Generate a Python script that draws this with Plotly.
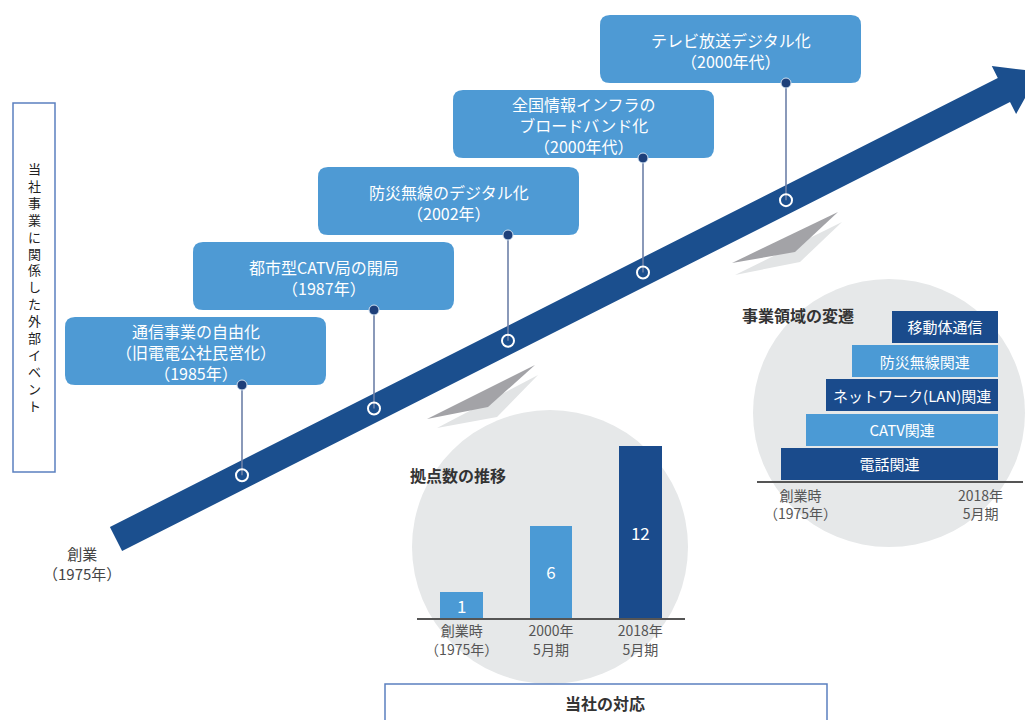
import plotly.graph_objects as go

W, H = 1025, 720
FONT = "Noto Sans CJK JP"

# ---------------- data ----------------
event_titles = [
    "通信事業の自由化<br>（旧電電公社民営化）",
    "都市型CATV局の開局",
    "防災無線のデジタル化",
    "全国情報インフラの<br>ブロードバンド化",
    "テレビ放送デジタル化",
]
event_periods = ["（1985年）", "（1987年）", "（2002年）", "（2000年代）", "（2000年代）"]

site_categories = ["創業時<br>（1975年）", "2000年<br>5月期", "2018年<br>5月期"]
site_counts = [1, 6, 12]

domain_labels = ["電話関連", "CATV関連", "ネットワーク(LAN)関連", "防災無線関連", "移動体通信"]
domain_start_years = [1975, 1980, 1984, 1989, 1997]
domain_end_year = 2018
domain_axis_labels = ["創業時<br>（1975年）", "2018年<br>5月期"]

side_label = "当社事業に関係した外部イベント"
origin_label = "創業<br>（1975年）"
response_label = "当社の対応"
sites_title = "拠点数の推移"
domains_title = "事業領域の変遷"

# ---------------- styles / layout (pixels) ----------------
LIGHT = "#4b9ad5"
DARK = "#1a4b8c"
ARROW = "#1b4f8e"
BOXBLUE = "#4e9ad4"
GRAYC = "#e6e8e9"
FRAME = "#5b80c0"

event_box_x0 = [65, 193, 318, 453, 600]
event_box_y0 = [317, 242, 167, 90, 15]
BOX_W, BOX_H = 261, 68
event_anchor_x = [242, 374, 508, 643, 786]

# arrow geometry
SX, SY = 116.0, 539.0
UX, UY = 0.8924, -0.4513
PX, PY = 0.4513, 0.8924
HW, HH = 13.5, 27.0
T_BASE, T_TIP = 995.0, 1035.0


def on_arrow(t, off=0.0):
    return (SX + UX * t + PX * off, SY + UY * t + PY * off)


def arrow_y_at(x):
    t = (x - SX) / UX
    return SY + UY * t


def poly(pts):
    return "M" + " L".join(f"{x:.1f},{y:.1f}" for x, y in pts) + " Z"


def rrect(x0, y0, x1, y1, r):
    return (f"M{x0+r},{y0} L{x1-r},{y0} Q{x1},{y0} {x1},{y0+r} L{x1},{y1-r} "
            f"Q{x1},{y1} {x1-r},{y1} L{x0+r},{y1} Q{x0},{y1} {x0},{y1-r} "
            f"L{x0},{y0+r} Q{x0},{y0} {x0+r},{y0} Z")


shapes = []
# gray circles
shapes.append(dict(type="circle", xref="x", yref="y", x0=412, x1=688, y0=410, y1=684,
                   fillcolor=GRAYC, line=dict(width=0), layer="below"))
shapes.append(dict(type="circle", xref="x", yref="y", x0=753, x1=1025, y0=279, y1=547,
                   fillcolor=GRAYC, line=dict(width=0), layer="below"))
# chevrons
for dark_pts, light_pts in [
    ([(427, 419), (535, 365), (488, 407)], [(437, 428), (538, 375), (497, 417)]),
    ([(732, 263), (838, 212), (795, 252)], [(735, 275), (842, 222), (800, 262)]),
]:
    shapes.append(dict(type="path", xref="x", yref="y", path=poly(light_pts),
                       fillcolor="#e2e4e5", line=dict(width=0), layer="below"))
    shapes.append(dict(type="path", xref="x", yref="y", path=poly(dark_pts),
                       fillcolor="#a3a3a7", line=dict(width=0), layer="below"))
# main arrow
arrow_pts = [on_arrow(0, -HW), on_arrow(T_BASE, -HW), on_arrow(T_BASE, -HH),
             on_arrow(T_TIP), on_arrow(T_BASE, HH), on_arrow(T_BASE, HW), on_arrow(0, HW)]
shapes.append(dict(type="path", xref="x", yref="y", path=poly(arrow_pts),
                   fillcolor=ARROW, line=dict(width=0), layer="below"))
# event boxes
for x0, y0 in zip(event_box_x0, event_box_y0):
    shapes.append(dict(type="path", xref="x", yref="y",
                       path=rrect(x0, y0, x0 + BOX_W, y0 + BOX_H, 10),
                       fillcolor=BOXBLUE, line=dict(width=0), layer="below"))
# frames
shapes.append(dict(type="rect", xref="x", yref="y", x0=13, x1=55, y0=103, y1=472,
                   line=dict(color=FRAME, width=1.5), fillcolor="rgba(0,0,0,0)", layer="below"))
shapes.append(dict(type="rect", xref="x", yref="y", x0=385, x1=827, y0=684, y1=740,
                   line=dict(color=FRAME, width=1.5), fillcolor="white", layer="below"))

fig = go.Figure()

# connectors
cx, cy = [], []
for x, y0 in zip(event_anchor_x, event_box_y0):
    cx += [x, x, None]
    cy += [y0 + BOX_H, arrow_y_at(x), None]
fig.add_trace(go.Scatter(x=cx, y=cy, mode="lines", line=dict(color="#6d80a8", width=1.6),
                         hoverinfo="skip", showlegend=False, xaxis="x", yaxis="y"))
fig.add_trace(go.Scatter(x=event_anchor_x, y=[y + BOX_H for y in event_box_y0], mode="markers",
                         marker=dict(size=10, color="#1d3f7a", line=dict(color="#cfe0f1", width=1)),
                         hoverinfo="skip", showlegend=False, xaxis="x", yaxis="y"))
fig.add_trace(go.Scatter(x=event_anchor_x, y=[arrow_y_at(x) for x in event_anchor_x], mode="markers",
                         marker=dict(size=12, symbol="circle-open", color="white", line=dict(width=2)),
                         hoverinfo="skip", showlegend=False, xaxis="x", yaxis="y"))

# sites bar chart
OFFSET = 0.94
fig.add_trace(go.Bar(x=site_categories, y=[v + OFFSET for v in site_counts], base=-OFFSET,
                     text=[str(v) for v in site_counts], textposition="inside",
                     insidetextanchor="middle", constraintext="none", textangle=0,
                     textfont=dict(color="white", size=17, family=FONT),
                     marker=dict(color=[LIGHT, LIGHT, DARK], line=dict(width=0)),
                     width=0.48, hoverinfo="skip", showlegend=False, xaxis="x2", yaxis="y2"))

# business domains chart
dom_colors = [DARK if i % 2 == 0 else LIGHT for i in range(len(domain_labels))]
fig.add_trace(go.Bar(y=domain_labels, x=[domain_end_year - s for s in domain_start_years],
                     base=domain_start_years, orientation="h",
                     text=domain_labels, textposition="inside", insidetextanchor="middle",
                     constraintext="none", textangle=0,
                     textfont=dict(color="white", size=15, family=FONT),
                     marker=dict(color=dom_colors, line=dict(width=0)),
                     width=0.93, hoverinfo="skip", showlegend=False, xaxis="x3", yaxis="y3"))

annotations = []
for x0, y0, t, p in zip(event_box_x0, event_box_y0, event_titles, event_periods):
    annotations.append(dict(x=x0 + BOX_W / 2, y=y0 + BOX_H / 2 + 1, xref="x", yref="y",
                            text=f"{t}<br>{p}", showarrow=False,
                            font=dict(family=FONT, size=16, color="white")))
annotations.append(dict(x=34, y=287, xref="x", yref="y", text="<br>".join(side_label),
                        showarrow=False, font=dict(family=FONT, size=13, color="#222")))
annotations.append(dict(x=82, y=563, xref="x", yref="y", text=origin_label,
                        showarrow=False, font=dict(family=FONT, size=15, color="#444")))
annotations.append(dict(x=605, y=703, xref="x", yref="y", text=f"<b>{response_label}</b>",
                        showarrow=False, font=dict(family=FONT, size=16, color="#333")))
annotations.append(dict(x=408, y=475, xref="x", yref="y", xanchor="left", text=f"<b>{sites_title}</b>",
                        showarrow=False, font=dict(family=FONT, size=16, color="#333")))
annotations.append(dict(x=740, y=315, xref="x", yref="y", xanchor="left", text=f"<b>{domains_title}</b>",
                        showarrow=False, font=dict(family=FONT, size=16, color="#333")))
for xp, lab in zip([800, 980], domain_axis_labels):
    annotations.append(dict(x=xp, y=504, xref="x", yref="y", text=lab, showarrow=False,
                            font=dict(family=FONT, size=14, color="#555")))

fig.update_layout(
    width=W, height=H, autosize=False,
    margin=dict(l=0, r=0, t=0, b=0),
    paper_bgcolor="white", plot_bgcolor="rgba(0,0,0,0)",
    font=dict(family=FONT),
    shapes=shapes, annotations=annotations,
    hovermode=False, bargap=0,
    xaxis=dict(domain=[0, 1], range=[0, W], visible=False, fixedrange=True),
    yaxis=dict(domain=[0, 1], range=[H, 0], visible=False, fixedrange=True),
    xaxis2=dict(domain=[417 / W, 685 / W], anchor="y2", type="category",
                showline=True, linecolor="#555", linewidth=1.5, showgrid=False, zeroline=False,
                ticks="", tickfont=dict(family=FONT, size=14, color="#555"), fixedrange=True),
    yaxis2=dict(domain=[1 - 618 / H, 1 - 446 / H], anchor="x2", range=[-OFFSET, 12],
                visible=False, fixedrange=True),
    xaxis3=dict(domain=[757 / W, 1023 / W], anchor="y3", range=[1970.25, 2022.95],
                showline=True, linecolor="#555", linewidth=1.5, showgrid=False, zeroline=False,
                showticklabels=False, ticks="", fixedrange=True),
    yaxis3=dict(domain=[1 - 481 / H, 1 - 309.75 / H], anchor="x3", type="category",
                categoryorder="array", categoryarray=domain_labels, range=[-0.5, 4.5],
                visible=False, fixedrange=True),
)

fig.write_html("out.html", config={"displayModeBar": False, "staticPlot": True},
               post_script="document.body.style.margin='0';document.body.style.overflow='hidden';")
